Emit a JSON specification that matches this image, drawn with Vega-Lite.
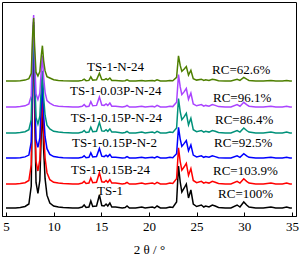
{
"$schema": "https://vega.github.io/schema/vega-lite/v6.json",
"width": 294, "height": 214,
"padding": {"left": 2, "top": 2, "right": 3, "bottom": 0},
"autosize": {"type": "pad"},
"config": {"view": {"stroke": "#000", "strokeWidth": 1}, "font": "Liberation Serif"},
"layer": [
{
"data": {"values": [
{"s":"s1","x":5,"y":8},{"s":"s1","x":5.5,"y":8},{"s":"s1","x":6,"y":8},{"s":"s1","x":6.5,"y":8.5},{"s":"s1","x":7,"y":9.5},{"s":"s1","x":7.4,"y":12},{"s":"s1","x":7.65,"y":30},{"s":"s1","x":7.8,"y":145.3},{"s":"s1","x":7.9,"y":191},{"s":"s1","x":8,"y":108.7},{"s":"s1","x":8.15,"y":33.6},{"s":"s1","x":8.35,"y":22.6},{"s":"s1","x":8.55,"y":35.5},{"s":"s1","x":8.7,"y":81.2},{"s":"s1","x":8.82,"y":110.5},{"s":"s1","x":8.95,"y":66.6},{"s":"s1","x":9.1,"y":37.3},{"s":"s1","x":9.3,"y":20.8},{"s":"s1","x":9.6,"y":13},{"s":"s1","x":10,"y":10},{"s":"s1","x":10.5,"y":9},{"s":"s1","x":11,"y":8.5},{"s":"s1","x":12,"y":8},{"s":"s1","x":12.6,"y":8},{"s":"s1","x":13,"y":9},{"s":"s1","x":13.2,"y":11},{"s":"s1","x":13.4,"y":8.5},{"s":"s1","x":13.7,"y":9},{"s":"s1","x":13.9,"y":15},{"s":"s1","x":14.1,"y":9.5},{"s":"s1","x":14.5,"y":10},{"s":"s1","x":14.8,"y":21},{"s":"s1","x":15.05,"y":10.5},{"s":"s1","x":15.3,"y":10},{"s":"s1","x":15.5,"y":12},{"s":"s1","x":15.68,"y":10},{"s":"s1","x":15.9,"y":13},{"s":"s1","x":16.1,"y":9},{"s":"s1","x":16.5,"y":9},{"s":"s1","x":17.2,"y":8},{"s":"s1","x":17.5,"y":8.5},{"s":"s1","x":17.7,"y":10},{"s":"s1","x":17.95,"y":8},{"s":"s1","x":18.6,"y":8},{"s":"s1","x":19.25,"y":9},{"s":"s1","x":19.6,"y":8},{"s":"s1","x":20.35,"y":9},{"s":"s1","x":20.6,"y":8},{"s":"s1","x":20.85,"y":10},{"s":"s1","x":21.2,"y":8},{"s":"s1","x":21.8,"y":8},{"s":"s1","x":22.2,"y":9},{"s":"s1","x":22.5,"y":8.5},{"s":"s1","x":22.9,"y":14},{"s":"s1","x":23.1,"y":50},{"s":"s1","x":23.28,"y":34},{"s":"s1","x":23.45,"y":24},{"s":"s1","x":23.7,"y":28},{"s":"s1","x":23.92,"y":32},{"s":"s1","x":24.15,"y":18},{"s":"s1","x":24.4,"y":26},{"s":"s1","x":24.65,"y":12},{"s":"s1","x":25,"y":9.5},{"s":"s1","x":25.5,"y":11},{"s":"s1","x":25.75,"y":9},{"s":"s1","x":25.95,"y":10},{"s":"s1","x":26.3,"y":9},{"s":"s1","x":26.65,"y":11},{"s":"s1","x":26.95,"y":10},{"s":"s1","x":27.3,"y":8.5},{"s":"s1","x":28,"y":8},{"s":"s1","x":28.6,"y":8},{"s":"s1","x":29.25,"y":11},{"s":"s1","x":29.55,"y":9},{"s":"s1","x":29.95,"y":14},{"s":"s1","x":30.25,"y":11},{"s":"s1","x":30.5,"y":9},{"s":"s1","x":31.2,"y":8},{"s":"s1","x":32,"y":8},{"s":"s1","x":32.8,"y":9},{"s":"s1","x":33.3,"y":8},{"s":"s1","x":34,"y":8},{"s":"s1","x":34.45,"y":9},{"s":"s1","x":34.8,"y":8},{"s":"s1","x":35,"y":8},
{"s":"s2","x":5,"y":32},{"s":"s2","x":5.5,"y":32},{"s":"s2","x":6,"y":32},{"s":"s2","x":6.5,"y":32.5},{"s":"s2","x":7,"y":33.3},{"s":"s2","x":7.4,"y":35.5},{"s":"s2","x":7.65,"y":51.4},{"s":"s2","x":7.8,"y":153.5},{"s":"s2","x":7.9,"y":194},{"s":"s2","x":8,"y":121.1},{"s":"s2","x":8.15,"y":54.7},{"s":"s2","x":8.35,"y":45},{"s":"s2","x":8.55,"y":56.3},{"s":"s2","x":8.7,"y":96.8},{"s":"s2","x":8.82,"y":122.7},{"s":"s2","x":8.95,"y":83.8},{"s":"s2","x":9.1,"y":57.9},{"s":"s2","x":9.3,"y":43.3},{"s":"s2","x":9.6,"y":36.3},{"s":"s2","x":10,"y":33.7},{"s":"s2","x":10.5,"y":32.9},{"s":"s2","x":11,"y":32.5},{"s":"s2","x":12,"y":32},{"s":"s2","x":12.6,"y":32},{"s":"s2","x":13,"y":32.9},{"s":"s2","x":13.2,"y":34.6},{"s":"s2","x":13.4,"y":32.5},{"s":"s2","x":13.7,"y":32.9},{"s":"s2","x":13.9,"y":38},{"s":"s2","x":14.1,"y":33.3},{"s":"s2","x":14.5,"y":33.7},{"s":"s2","x":14.8,"y":43.2},{"s":"s2","x":15.05,"y":34.2},{"s":"s2","x":15.3,"y":33.7},{"s":"s2","x":15.5,"y":35.5},{"s":"s2","x":15.68,"y":33.7},{"s":"s2","x":15.9,"y":36.3},{"s":"s2","x":16.1,"y":32.9},{"s":"s2","x":16.5,"y":32.9},{"s":"s2","x":17.2,"y":32},{"s":"s2","x":17.5,"y":32.5},{"s":"s2","x":17.7,"y":33.7},{"s":"s2","x":17.95,"y":32},{"s":"s2","x":18.6,"y":32},{"s":"s2","x":19.25,"y":32.9},{"s":"s2","x":19.6,"y":32},{"s":"s2","x":20.35,"y":32.9},{"s":"s2","x":20.6,"y":32},{"s":"s2","x":20.85,"y":33.7},{"s":"s2","x":21.2,"y":32},{"s":"s2","x":21.8,"y":32},{"s":"s2","x":22.2,"y":32.9},{"s":"s2","x":22.5,"y":32.5},{"s":"s2","x":22.9,"y":37.2},{"s":"s2","x":23.1,"y":68.1},{"s":"s2","x":23.28,"y":54.4},{"s":"s2","x":23.45,"y":45.8},{"s":"s2","x":23.7,"y":49.2},{"s":"s2","x":23.92,"y":52.7},{"s":"s2","x":24.15,"y":40.6},{"s":"s2","x":24.4,"y":47.5},{"s":"s2","x":24.65,"y":35.5},{"s":"s2","x":25,"y":33.3},{"s":"s2","x":25.5,"y":34.6},{"s":"s2","x":25.75,"y":32.9},{"s":"s2","x":25.95,"y":33.7},{"s":"s2","x":26.3,"y":32.9},{"s":"s2","x":26.65,"y":34.6},{"s":"s2","x":26.95,"y":33.7},{"s":"s2","x":27.3,"y":32.5},{"s":"s2","x":28,"y":32},{"s":"s2","x":28.6,"y":32},{"s":"s2","x":29.25,"y":34.6},{"s":"s2","x":29.55,"y":32.9},{"s":"s2","x":29.95,"y":37.2},{"s":"s2","x":30.25,"y":34.6},{"s":"s2","x":30.5,"y":32.9},{"s":"s2","x":31.2,"y":32},{"s":"s2","x":32,"y":32},{"s":"s2","x":32.8,"y":32.9},{"s":"s2","x":33.3,"y":32},{"s":"s2","x":34,"y":32},{"s":"s2","x":34.45,"y":32.9},{"s":"s2","x":34.8,"y":32},{"s":"s2","x":35,"y":32},
{"s":"s3","x":5,"y":58},{"s":"s3","x":5.5,"y":58},{"s":"s3","x":6,"y":58},{"s":"s3","x":6.5,"y":58.3},{"s":"s3","x":7,"y":59.1},{"s":"s3","x":7.4,"y":60.9},{"s":"s3","x":7.65,"y":74},{"s":"s3","x":7.8,"y":157.8},{"s":"s3","x":7.9,"y":191},{"s":"s3","x":8,"y":131.2},{"s":"s3","x":8.15,"y":76.6},{"s":"s3","x":8.35,"y":68.6},{"s":"s3","x":8.55,"y":78},{"s":"s3","x":8.7,"y":111.2},{"s":"s3","x":8.82,"y":132.5},{"s":"s3","x":8.95,"y":100.6},{"s":"s3","x":9.1,"y":79.3},{"s":"s3","x":9.3,"y":67.3},{"s":"s3","x":9.6,"y":61.6},{"s":"s3","x":10,"y":59.4},{"s":"s3","x":10.5,"y":58.7},{"s":"s3","x":11,"y":58.3},{"s":"s3","x":12,"y":58},{"s":"s3","x":12.6,"y":58},{"s":"s3","x":13,"y":58.7},{"s":"s3","x":13.2,"y":60.2},{"s":"s3","x":13.4,"y":58.3},{"s":"s3","x":13.7,"y":58.7},{"s":"s3","x":13.9,"y":63.1},{"s":"s3","x":14.1,"y":59.1},{"s":"s3","x":14.5,"y":59.4},{"s":"s3","x":14.8,"y":67.5},{"s":"s3","x":15.05,"y":59.8},{"s":"s3","x":15.3,"y":59.4},{"s":"s3","x":15.5,"y":60.9},{"s":"s3","x":15.68,"y":59.4},{"s":"s3","x":15.9,"y":61.6},{"s":"s3","x":16.1,"y":58.7},{"s":"s3","x":16.5,"y":58.7},{"s":"s3","x":17.2,"y":58},{"s":"s3","x":17.5,"y":58.3},{"s":"s3","x":17.7,"y":59.4},{"s":"s3","x":17.95,"y":58},{"s":"s3","x":18.6,"y":58},{"s":"s3","x":19.25,"y":58.7},{"s":"s3","x":19.6,"y":58},{"s":"s3","x":20.35,"y":58.7},{"s":"s3","x":20.6,"y":58},{"s":"s3","x":20.85,"y":59.4},{"s":"s3","x":21.2,"y":58},{"s":"s3","x":21.8,"y":58},{"s":"s3","x":22.2,"y":58.7},{"s":"s3","x":22.5,"y":58.3},{"s":"s3","x":22.9,"y":62.3},{"s":"s3","x":23.1,"y":88.6},{"s":"s3","x":23.28,"y":76.9},{"s":"s3","x":23.45,"y":69.6},{"s":"s3","x":23.7,"y":72.6},{"s":"s3","x":23.92,"y":75.5},{"s":"s3","x":24.15,"y":65.3},{"s":"s3","x":24.4,"y":71.1},{"s":"s3","x":24.65,"y":60.9},{"s":"s3","x":25,"y":59.1},{"s":"s3","x":25.5,"y":60.2},{"s":"s3","x":25.75,"y":58.7},{"s":"s3","x":25.95,"y":59.4},{"s":"s3","x":26.3,"y":58.7},{"s":"s3","x":26.65,"y":60.2},{"s":"s3","x":26.95,"y":59.4},{"s":"s3","x":27.3,"y":58.3},{"s":"s3","x":28,"y":58},{"s":"s3","x":28.6,"y":58},{"s":"s3","x":29.25,"y":60.2},{"s":"s3","x":29.55,"y":58.7},{"s":"s3","x":29.95,"y":62.3},{"s":"s3","x":30.25,"y":60.2},{"s":"s3","x":30.5,"y":58.7},{"s":"s3","x":31.2,"y":58},{"s":"s3","x":32,"y":58},{"s":"s3","x":32.8,"y":58.7},{"s":"s3","x":33.3,"y":58},{"s":"s3","x":34,"y":58},{"s":"s3","x":34.45,"y":58.7},{"s":"s3","x":34.8,"y":58},{"s":"s3","x":35,"y":58},
{"s":"s4","x":5,"y":83},{"s":"s4","x":5.5,"y":83},{"s":"s4","x":6,"y":83},{"s":"s4","x":6.5,"y":83.5},{"s":"s4","x":7,"y":84.3},{"s":"s4","x":7.4,"y":86.3},{"s":"s4","x":7.65,"y":96.3},{"s":"s4","x":7.8,"y":166.3},{"s":"s4","x":7.9,"y":194},{"s":"s4","x":8,"y":144.1},{"s":"s4","x":8.15,"y":98.5},{"s":"s4","x":8.35,"y":91.9},{"s":"s4","x":8.55,"y":99.7},{"s":"s4","x":8.7,"y":127.4},{"s":"s4","x":8.82,"y":145.2},{"s":"s4","x":8.95,"y":118.5},{"s":"s4","x":9.1,"y":100.8},{"s":"s4","x":9.3,"y":90.8},{"s":"s4","x":9.6,"y":87.1},{"s":"s4","x":10,"y":84.7},{"s":"s4","x":10.5,"y":83.9},{"s":"s4","x":11,"y":83.5},{"s":"s4","x":12,"y":83},{"s":"s4","x":12.6,"y":83},{"s":"s4","x":13,"y":83.9},{"s":"s4","x":13.2,"y":85.5},{"s":"s4","x":13.4,"y":83.5},{"s":"s4","x":13.7,"y":83.9},{"s":"s4","x":13.9,"y":88.8},{"s":"s4","x":14.1,"y":84.3},{"s":"s4","x":14.5,"y":84.7},{"s":"s4","x":14.8,"y":93.7},{"s":"s4","x":15.05,"y":85.1},{"s":"s4","x":15.3,"y":84.7},{"s":"s4","x":15.5,"y":86.3},{"s":"s4","x":15.68,"y":84.7},{"s":"s4","x":15.9,"y":87.1},{"s":"s4","x":16.1,"y":83.9},{"s":"s4","x":16.5,"y":83.9},{"s":"s4","x":17.2,"y":83},{"s":"s4","x":17.5,"y":83.5},{"s":"s4","x":17.7,"y":84.7},{"s":"s4","x":17.95,"y":83},{"s":"s4","x":18.6,"y":83},{"s":"s4","x":19.25,"y":83.9},{"s":"s4","x":19.6,"y":83},{"s":"s4","x":20.35,"y":83.9},{"s":"s4","x":20.6,"y":83},{"s":"s4","x":20.85,"y":84.7},{"s":"s4","x":21.2,"y":83},{"s":"s4","x":21.8,"y":83},{"s":"s4","x":22.2,"y":83.9},{"s":"s4","x":22.5,"y":83.5},{"s":"s4","x":22.9,"y":88},{"s":"s4","x":23.1,"y":117.5},{"s":"s4","x":23.28,"y":104.4},{"s":"s4","x":23.45,"y":96.2},{"s":"s4","x":23.7,"y":99.4},{"s":"s4","x":23.92,"y":102.7},{"s":"s4","x":24.15,"y":91.2},{"s":"s4","x":24.4,"y":97.8},{"s":"s4","x":24.65,"y":86.3},{"s":"s4","x":25,"y":84.3},{"s":"s4","x":25.5,"y":85.5},{"s":"s4","x":25.75,"y":83.9},{"s":"s4","x":25.95,"y":84.7},{"s":"s4","x":26.3,"y":83.9},{"s":"s4","x":26.65,"y":85.5},{"s":"s4","x":26.95,"y":84.7},{"s":"s4","x":27.3,"y":83.5},{"s":"s4","x":28,"y":83},{"s":"s4","x":28.6,"y":83},{"s":"s4","x":29.25,"y":85.5},{"s":"s4","x":29.55,"y":83.9},{"s":"s4","x":29.95,"y":88},{"s":"s4","x":30.25,"y":85.5},{"s":"s4","x":30.5,"y":83.9},{"s":"s4","x":31.2,"y":83},{"s":"s4","x":32,"y":83},{"s":"s4","x":32.8,"y":83.9},{"s":"s4","x":33.3,"y":83},{"s":"s4","x":34,"y":83},{"s":"s4","x":34.45,"y":83.9},{"s":"s4","x":34.8,"y":83},{"s":"s4","x":35,"y":83},
{"s":"s5","x":5,"y":109},{"s":"s5","x":5.5,"y":109},{"s":"s5","x":6,"y":109},{"s":"s5","x":6.5,"y":109.4},{"s":"s5","x":7,"y":110.2},{"s":"s5","x":7.4,"y":112.1},{"s":"s5","x":7.65,"y":120},{"s":"s5","x":7.8,"y":178},{"s":"s5","x":7.9,"y":201},{"s":"s5","x":8,"y":159.6},{"s":"s5","x":8.15,"y":121.9},{"s":"s5","x":8.35,"y":116.4},{"s":"s5","x":8.55,"y":122.8},{"s":"s5","x":8.7,"y":145.8},{"s":"s5","x":8.82,"y":160.5},{"s":"s5","x":8.95,"y":138.4},{"s":"s5","x":9.1,"y":123.7},{"s":"s5","x":9.3,"y":115.4},{"s":"s5","x":9.6,"y":112.9},{"s":"s5","x":10,"y":110.6},{"s":"s5","x":10.5,"y":109.8},{"s":"s5","x":11,"y":109.4},{"s":"s5","x":12,"y":109},{"s":"s5","x":12.6,"y":109},{"s":"s5","x":13,"y":109.8},{"s":"s5","x":13.2,"y":111.4},{"s":"s5","x":13.4,"y":109.4},{"s":"s5","x":13.7,"y":109.8},{"s":"s5","x":13.9,"y":114.4},{"s":"s5","x":14.1,"y":110.2},{"s":"s5","x":14.5,"y":110.6},{"s":"s5","x":14.8,"y":119.1},{"s":"s5","x":15.05,"y":111},{"s":"s5","x":15.3,"y":110.6},{"s":"s5","x":15.5,"y":112.1},{"s":"s5","x":15.68,"y":110.6},{"s":"s5","x":15.9,"y":112.9},{"s":"s5","x":16.1,"y":109.8},{"s":"s5","x":16.5,"y":109.8},{"s":"s5","x":17.2,"y":109},{"s":"s5","x":17.5,"y":109.4},{"s":"s5","x":17.7,"y":110.6},{"s":"s5","x":17.95,"y":109},{"s":"s5","x":18.6,"y":109},{"s":"s5","x":19.25,"y":109.8},{"s":"s5","x":19.6,"y":109},{"s":"s5","x":20.35,"y":109.8},{"s":"s5","x":20.6,"y":109},{"s":"s5","x":20.85,"y":110.6},{"s":"s5","x":21.2,"y":109},{"s":"s5","x":21.8,"y":109},{"s":"s5","x":22.2,"y":109.8},{"s":"s5","x":22.5,"y":109.4},{"s":"s5","x":22.9,"y":113.7},{"s":"s5","x":23.1,"y":141.4},{"s":"s5","x":23.28,"y":129.1},{"s":"s5","x":23.45,"y":121.4},{"s":"s5","x":23.7,"y":124.4},{"s":"s5","x":23.92,"y":127.5},{"s":"s5","x":24.15,"y":116.7},{"s":"s5","x":24.4,"y":122.9},{"s":"s5","x":24.65,"y":112.1},{"s":"s5","x":25,"y":110.2},{"s":"s5","x":25.5,"y":111.4},{"s":"s5","x":25.75,"y":109.8},{"s":"s5","x":25.95,"y":110.6},{"s":"s5","x":26.3,"y":109.8},{"s":"s5","x":26.65,"y":111.4},{"s":"s5","x":26.95,"y":110.6},{"s":"s5","x":27.3,"y":109.4},{"s":"s5","x":28,"y":109},{"s":"s5","x":28.6,"y":109},{"s":"s5","x":29.25,"y":111.4},{"s":"s5","x":29.55,"y":109.8},{"s":"s5","x":29.95,"y":113.7},{"s":"s5","x":30.25,"y":111.4},{"s":"s5","x":30.5,"y":109.8},{"s":"s5","x":31.2,"y":109},{"s":"s5","x":32,"y":109},{"s":"s5","x":32.8,"y":109.8},{"s":"s5","x":33.3,"y":109},{"s":"s5","x":34,"y":109},{"s":"s5","x":34.45,"y":109.8},{"s":"s5","x":34.8,"y":109},{"s":"s5","x":35,"y":109},
{"s":"s6","x":5,"y":135},{"s":"s6","x":5.5,"y":135},{"s":"s6","x":6,"y":135},{"s":"s6","x":6.5,"y":135.3},{"s":"s6","x":7,"y":135.9},{"s":"s6","x":7.4,"y":137.4},{"s":"s6","x":7.65,"y":142.6},{"s":"s6","x":7.8,"y":182.3},{"s":"s6","x":7.9,"y":198},{"s":"s6","x":8,"y":169.7},{"s":"s6","x":8.15,"y":143.8},{"s":"s6","x":8.35,"y":140},{"s":"s6","x":8.55,"y":144.5},{"s":"s6","x":8.7,"y":160.2},{"s":"s6","x":8.82,"y":170.3},{"s":"s6","x":8.95,"y":155.2},{"s":"s6","x":9.1,"y":145.1},{"s":"s6","x":9.3,"y":139.4},{"s":"s6","x":9.6,"y":138},{"s":"s6","x":10,"y":136.2},{"s":"s6","x":10.5,"y":135.6},{"s":"s6","x":11,"y":135.3},{"s":"s6","x":12,"y":135},{"s":"s6","x":12.6,"y":135},{"s":"s6","x":13,"y":135.6},{"s":"s6","x":13.2,"y":136.8},{"s":"s6","x":13.4,"y":135.3},{"s":"s6","x":13.7,"y":135.6},{"s":"s6","x":13.9,"y":139.2},{"s":"s6","x":14.1,"y":135.9},{"s":"s6","x":14.5,"y":136.2},{"s":"s6","x":14.8,"y":142.8},{"s":"s6","x":15.05,"y":136.5},{"s":"s6","x":15.3,"y":136.2},{"s":"s6","x":15.5,"y":137.4},{"s":"s6","x":15.68,"y":136.2},{"s":"s6","x":15.9,"y":138},{"s":"s6","x":16.1,"y":135.6},{"s":"s6","x":16.5,"y":135.6},{"s":"s6","x":17.2,"y":135},{"s":"s6","x":17.5,"y":135.3},{"s":"s6","x":17.7,"y":136.2},{"s":"s6","x":17.95,"y":135},{"s":"s6","x":18.6,"y":135},{"s":"s6","x":19.25,"y":135.6},{"s":"s6","x":19.6,"y":135},{"s":"s6","x":20.35,"y":135.6},{"s":"s6","x":20.6,"y":135},{"s":"s6","x":20.85,"y":136.2},{"s":"s6","x":21.2,"y":135},{"s":"s6","x":21.8,"y":135},{"s":"s6","x":22.2,"y":135.6},{"s":"s6","x":22.5,"y":135.3},{"s":"s6","x":22.9,"y":138.6},{"s":"s6","x":23.1,"y":160.2},{"s":"s6","x":23.28,"y":150.6},{"s":"s6","x":23.45,"y":144.6},{"s":"s6","x":23.7,"y":147},{"s":"s6","x":23.92,"y":149.4},{"s":"s6","x":24.15,"y":141},{"s":"s6","x":24.4,"y":145.8},{"s":"s6","x":24.65,"y":137.4},{"s":"s6","x":25,"y":135.9},{"s":"s6","x":25.5,"y":136.8},{"s":"s6","x":25.75,"y":135.6},{"s":"s6","x":25.95,"y":136.2},{"s":"s6","x":26.3,"y":135.6},{"s":"s6","x":26.65,"y":136.8},{"s":"s6","x":26.95,"y":136.2},{"s":"s6","x":27.3,"y":135.3},{"s":"s6","x":28,"y":135},{"s":"s6","x":28.6,"y":135},{"s":"s6","x":29.25,"y":136.8},{"s":"s6","x":29.55,"y":135.6},{"s":"s6","x":29.95,"y":138.6},{"s":"s6","x":30.25,"y":136.8},{"s":"s6","x":30.5,"y":135.6},{"s":"s6","x":31.2,"y":135},{"s":"s6","x":32,"y":135},{"s":"s6","x":32.8,"y":135.6},{"s":"s6","x":33.3,"y":135},{"s":"s6","x":34,"y":135},{"s":"s6","x":34.45,"y":135.6},{"s":"s6","x":34.8,"y":135},{"s":"s6","x":35,"y":135}
]},
"mark": {"type": "line", "strokeWidth": 1.5},
"encoding": {
"x": {"field": "x", "type": "quantitative", "scale": {"domain": [4.58, 35.43], "nice": false, "zero": false},
 "axis": {"values": [5,7.5,10,12.5,15,17.5,20,22.5,25,27.5,30,32.5,35], "labelExpr": "datum.value % 5 === 0 ? datum.label : ''", "tickSize": -4, "tickColor": "#000", "domainColor": "#000", "grid": false, "labelFontSize": 13, "labelFont": "Liberation Serif", "labelColor": "#000", "labelPadding": 8, "labelFlush": false, "title": "2 θ / °", "titleFont": "Liberation Serif", "titleFontSize": 13, "titleFontWeight": "normal", "titleColor": "#000", "titlePadding": 10}},
"y": {"field": "y", "type": "quantitative", "scale": {"domain": [0, 214], "nice": false}, "axis": null},
"color": {"field": "s", "type": "nominal", "scale": {"domain": ["s1","s2","s3","s4","s5","s6"], "range": ["#000000","#ff0000","#0000ff","#00917a","#aa44ff","#4e7f00"]}, "legend": null}
}
},
{
"data": {"values": [
{"x": 13.5, "y": 149, "t": "TS-1-N-24"},
{"x": 11.72, "y": 125, "t": "TS-1-0.03P-N-24"},
{"x": 11.79, "y": 98, "t": "TS-1-0.15P-N-24"},
{"x": 11.93, "y": 73, "t": "TS-1-0.15P-N-2"},
{"x": 11.82, "y": 46, "t": "TS-1-0.15B-24"},
{"x": 14.55, "y": 25, "t": "TS-1"},
{"x": 26.62, "y": 146, "t": "RC=62.6%"},
{"x": 26.72, "y": 118, "t": "RC=96.1%"},
{"x": 26.93, "y": 96, "t": "RC=86.4%"},
{"x": 26.83, "y": 73, "t": "RC=92.5%"},
{"x": 26.72, "y": 45, "t": "RC=103.9%"},
{"x": 27.25, "y": 22, "t": "RC=100%"}
]},
"mark": {"type": "text", "align": "left", "baseline": "middle", "fontSize": 13, "font": "Liberation Serif", "color": "#000"},
"encoding": {
"x": {"field": "x", "type": "quantitative"},
"y": {"field": "y", "type": "quantitative"},
"text": {"field": "t"}
}
}
]
}
